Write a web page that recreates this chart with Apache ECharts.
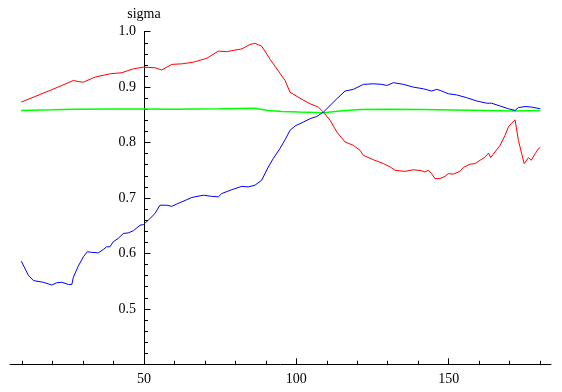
<!DOCTYPE html>
<html>
<head>
<meta charset="utf-8">
<script src="https://cdn.jsdelivr.net/npm/echarts@6/dist/echarts.min.js"></script>
<style>
  html, body { margin: 0; padding: 0; background: #fff; }
  #chart-container { width: 562px; height: 392px; }
</style>
</head>
<body>
<div id="chart-container"></div>
<script>
// values
let redX = [9.7, 19.1, 23, 26.8, 28.4, 30.1, 33.9, 38.8, 42.7, 46.5, 49.8, 53.6, 55.8, 59.1, 62.4, 66.2, 70.6, 74.4, 77.1, 82.1, 84.8, 86.4, 88.6, 91.4, 94.1, 96.3, 97.9, 101.2, 104.5, 107.2, 108.9, 111.1, 113.3, 116, 118.7, 120.9, 122, 125.3, 128.6, 130.8, 132.4, 135.7, 138.4, 141.2, 142.2, 143.3, 144.4, 145.5, 147.2, 148.8, 149.9, 151.5, 153.7, 154.8, 157, 158.7, 160.3, 162, 163.1, 163.8, 165.2, 166.9, 168.5, 169.6, 170.7, 171.8, 172.9, 174.8, 176.2, 177.1, 178.4, 179.5, 180.1];
let redY = [0.873, 0.894, 0.903, 0.912, 0.910, 0.909, 0.918, 0.924, 0.926, 0.933, 0.936, 0.935, 0.931, 0.941, 0.942, 0.945, 0.952, 0.965, 0.964, 0.969, 0.977, 0.979, 0.974, 0.950, 0.929, 0.912, 0.891, 0.880, 0.870, 0.864, 0.855, 0.840, 0.819, 0.801, 0.795, 0.786, 0.777, 0.769, 0.762, 0.756, 0.750, 0.748, 0.751, 0.749, 0.747, 0.750, 0.744, 0.735, 0.735, 0.739, 0.744, 0.743, 0.748, 0.755, 0.761, 0.762, 0.768, 0.774, 0.781, 0.773, 0.783, 0.795, 0.813, 0.828, 0.835, 0.841, 0.804, 0.762, 0.773, 0.768, 0.780, 0.789, 0.791];

let blueX = [9.7, 12, 13.7, 16.9, 19.7, 21.3, 23, 25.2, 26.3, 26.8, 28.4, 30.1, 31.4, 32.8, 35, 36.6, 37.7, 38.8, 39.9, 41.5, 43.2, 44.8, 46.5, 48.7, 49.8, 51.4, 53.6, 55.2, 57.4, 59.1, 60.7, 62.4, 65.7, 69.5, 72.2, 74.4, 75.5, 78.8, 82.1, 84.2, 86.4, 88.6, 90.8, 92.4, 94.6, 96.3, 97.9, 99.6, 102.3, 104.5, 106.7, 108.9, 111.1, 113.3, 116, 118.7, 122, 125.3, 128.1, 129.7, 131.9, 135.2, 138.4, 141.7, 144.4, 146.1, 147.7, 149.9, 152.6, 155.9, 159.2, 162.5, 164.1, 166.9, 169.6, 171.8, 172.9, 175.1, 177.3, 180.1];
let blueY = [0.586, 0.561, 0.551, 0.548, 0.543, 0.547, 0.548, 0.544, 0.544, 0.557, 0.577, 0.594, 0.603, 0.602, 0.601, 0.607, 0.612, 0.612, 0.621, 0.627, 0.636, 0.637, 0.641, 0.651, 0.652, 0.660, 0.672, 0.687, 0.687, 0.685, 0.689, 0.693, 0.701, 0.705, 0.703, 0.702, 0.708, 0.715, 0.721, 0.720, 0.723, 0.732, 0.756, 0.771, 0.789, 0.805, 0.822, 0.830, 0.837, 0.843, 0.847, 0.855, 0.867, 0.879, 0.893, 0.896, 0.905, 0.906, 0.905, 0.903, 0.908, 0.905, 0.900, 0.897, 0.893, 0.896, 0.893, 0.888, 0.886, 0.881, 0.875, 0.871, 0.871, 0.866, 0.861, 0.858, 0.863, 0.865, 0.864, 0.861];

let greenX = [9.6, 20, 27.3, 40, 49.8, 60, 75, 86.4, 90.8, 95.2, 101, 108.9, 114.3, 120.9, 130.8, 141, 162.5, 171.2, 180.1];
let greenY = [0.858, 0.859, 0.860, 0.8605, 0.8605, 0.860, 0.861, 0.862, 0.858, 0.856, 0.855, 0.854, 0.857, 0.8595, 0.860, 0.8595, 0.858, 0.857, 0.858];

let xMajorTicks = [50, 100, 150];
let xMinorTicks = [10, 20, 30, 40, 50, 60, 70, 80, 90, 100, 110, 120, 130, 140, 150, 160, 170, 180];
let yMajorTicks = [0.5, 0.6, 0.7, 0.8, 0.9, 1.0];
let yMinorTicks = [0.42, 0.44, 0.46, 0.48, 0.52, 0.54, 0.56, 0.58, 0.62, 0.64, 0.66, 0.68, 0.72, 0.74, 0.76, 0.78, 0.82, 0.84, 0.86, 0.88, 0.92, 0.94, 0.96, 0.98];

function zip(xs, ys) {
    return xs.map((x, i) => [x, ys[i]]);
}

let dom = document.getElementById("chart-container");
let myChart = echarts.init(dom, null, { renderer: "canvas" });

let serif = "Liberation Serif, Times New Roman, serif";
let yOffset = -134;

let option = {
    animation: false,
    backgroundColor: "#fff",
    grid: { left: 10, right: 11, top: 31.7, bottom: 27.7 },
    xAxis: [{
        type: "value",
        position: "bottom",
        min: 6,
        max: 183.6,
        axisLine: { lineStyle: { color: "#000", width: 1 } },
        axisTick: { inside: true, length: 3.5, customValues: xMinorTicks, lineStyle: { color: "#000" } },
        axisLabel: { show: false },
        splitLine: { show: false },
    }, {
        type: "value",
        position: "bottom",
        min: 6,
        max: 183.6,
        axisLine: { show: false },
        axisTick: { inside: true, length: 6, customValues: xMajorTicks, lineStyle: { color: "#000" } },
        axisLabel: { customValues: xMajorTicks, margin: 8, fontFamily: serif, fontSize: 14, color: "#000" },
        splitLine: { show: false },
    }],
    yAxis: [{
        type: "value",
        position: "left",
        offset: yOffset,
        min: 0.4,
        max: 1.0,
        name: "sigma",
        nameLocation: "end",
        nameGap: 10,
        nameTextStyle: { fontFamily: serif, fontSize: 14, color: "#000", align: "center" },
        axisLine: { lineStyle: { color: "#000", width: 1 } },
        axisTick: { inside: true, length: 4, customValues: yMinorTicks, lineStyle: { color: "#000" } },
        axisLabel: { show: false },
        splitLine: { show: false },
    }, {
        type: "value",
        position: "left",
        offset: yOffset,
        min: 0.4,
        max: 1.0,
        axisLine: { show: false },
        axisTick: { inside: true, length: 6.5, customValues: yMajorTicks, lineStyle: { color: "#000" } },
        axisLabel: {
            customValues: yMajorTicks,
            margin: 8,
            fontFamily: serif,
            fontSize: 14,
            color: "#000",
            formatter: (v) => v.toFixed(1),
        },
        splitLine: { show: false },
    }],
    series: [{
        type: "line",
        data: zip(greenX, greenY),
        showSymbol: false,
        lineStyle: { color: "#00ff00", width: 1.5 },
    }, {
        type: "line",
        data: zip(blueX, blueY),
        showSymbol: false,
        lineStyle: { color: "#0000ff", width: 1 },
    }, {
        type: "line",
        data: zip(redX, redY),
        showSymbol: false,
        lineStyle: { color: "#ff0000", width: 1 },
    }],
};

myChart.setOption(option);
window.addEventListener("resize", myChart.resize);
</script>
</body>
</html>
